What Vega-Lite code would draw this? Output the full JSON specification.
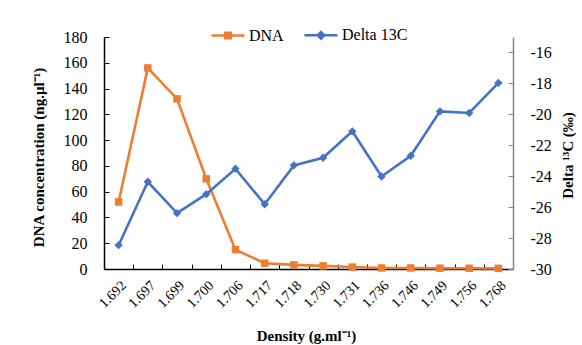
{
  "$schema": "https://vega.github.io/schema/vega-lite/v6.json",
  "width": 409,
  "height": 232,
  "autosize": "none",
  "padding": {"left": 104, "top": 37, "right": 69, "bottom": 76},
  "background": "white",
  "config": {
    "view": {"stroke": null},
    "font": "Liberation Serif",
    "axis": {"grid": false, "labelColor": "#000000", "titleColor": "#000000", "labelFont": "Liberation Serif", "titleFont": "Liberation Serif"},
    "legend": {"labelFont": "Liberation Serif", "labelColor": "#000000"}
  },
  "data": {
    "values": [
      {"density": "1.692", "DNA": 52, "delta": -28.46},
      {"density": "1.697", "DNA": 156, "delta": -24.36},
      {"density": "1.699", "DNA": 132, "delta": -26.39},
      {"density": "1.700", "DNA": 70, "delta": -25.16},
      {"density": "1.706", "DNA": 15, "delta": -23.52},
      {"density": "1.717", "DNA": 4.5, "delta": -25.81},
      {"density": "1.718", "DNA": 3.2, "delta": -23.3},
      {"density": "1.730", "DNA": 2.4, "delta": -22.81},
      {"density": "1.731", "DNA": 1.5, "delta": -21.1},
      {"density": "1.736", "DNA": 0.8, "delta": -24.02},
      {"density": "1.746", "DNA": 0.8, "delta": -22.68},
      {"density": "1.749", "DNA": 0.6, "delta": -19.81},
      {"density": "1.756", "DNA": 0.6, "delta": -19.91},
      {"density": "1.768", "DNA": 0.5, "delta": -17.97}
    ]
  },
  "encoding": {
    "x": {
      "field": "density",
      "type": "ordinal",
      "sort": null,
      "scale": {"type": "band", "paddingInner": 0, "paddingOuter": 0},
      "axis": {
        "title": "Density (g.ml⁻¹)",
        "titleFontSize": 15,
        "titleFontWeight": "bold",
        "titleX": 202,
        "titleY": 66,
        "titleAlign": "center",
        "titleBaseline": "middle",
        "labelAngle": -45,
        "labelFontSize": 14,
        "labelPadding": 14,
        "tickBand": "extent",
        "tickSize": -5,
        "tickColor": "#000000",
        "domainColor": "#000000",
        "domainWidth": 1.5
      }
    }
  },
  "layer": [
    {
      "encoding": {
        "y": {
          "field": "DNA",
          "type": "quantitative",
          "scale": {"domain": [0, 180], "nice": false},
          "axis": {
            "orient": "left",
            "title": "DNA concentration (ng.µl⁻¹)",
            "titleFontSize": 15,
            "titleFontWeight": "bold",
            "titleAngle": -90,
            "titleX": -66,
            "titleY": 120,
            "titleAlign": "center",
            "titleBaseline": "middle",
            "values": [0, 20, 40, 60, 80, 100, 120, 140, 160, 180],
            "labelFontSize": 16,
            "tickSize": -5,
            "labelPadding": 22,
            "tickColor": "#000000",
            "domainColor": "#000000",
            "domainWidth": 1.5
          }
        },
        "color": {
          "datum": "DNA",
          "type": "nominal",
          "scale": {"domain": ["DNA", "Delta 13C"], "range": ["#ED7D31", "#4472C4"]},
          "legend": {
            "orient": "none",
            "legendX": 106,
            "legendY": -20,
            "direction": "horizontal",
            "title": null,
            "symbolSize": 1089,
            "symbolStrokeWidth": 2.5,
            "labelFontSize": 16,
            "labelOffset": 3,
            "columnPadding": 15,
            "symbolType": "stroke",
            "encode": {
              "symbols": {
                "update": {
                  "shape": {"signal": "datum.value === 'DNA' ? 'M-1,0H1M-0.17,-0.17H0.17V0.17H-0.17Z' : 'M-1,0H1M0,-0.2L0.2,0L0,0.2L-0.2,0Z'"},
                  "fill": {"scale": "color", "field": "value"},
                  "stroke": {"scale": "color", "field": "value"},
                  "strokeWidth": {"value": 2.5},
                  "opacity": {"value": 1}
                }
              }
            }
          }
        }
      },
      "layer": [
        {"mark": {"type": "line", "strokeWidth": 2.6}},
        {"mark": {"type": "point", "shape": "square", "filled": true, "size": 56, "opacity": 1}}
      ]
    },
    {
      "encoding": {
        "y": {
          "field": "delta",
          "type": "quantitative",
          "scale": {"domain": [-30, -15], "nice": false, "zero": false},
          "axis": {
            "orient": "right",
            "title": "Delta ¹³C (‰)",
            "titleFontSize": 15,
            "titleFontWeight": "bold",
            "titleAngle": 270,
            "titleX": 54,
            "titleY": 118,
            "titleAlign": "center",
            "titleBaseline": "middle",
            "values": [-30, -28, -26, -24, -22, -20, -18, -16],
            "labelExpr": "'' + datum.value",
            "labelFontSize": 16,
            "tickSize": -5,
            "labelPadding": 22,
            "tickColor": "#868686",
            "domainColor": "#868686",
            "domainWidth": 1.5
          }
        },
        "color": {"datum": "Delta 13C", "type": "nominal"}
      },
      "layer": [
        {"mark": {"type": "line", "strokeWidth": 2.6}},
        {"mark": {"type": "point", "shape": "diamond", "filled": true, "size": 70, "opacity": 1}}
      ]
    }
  ],
  "resolve": {"scale": {"y": "independent"}}
}
